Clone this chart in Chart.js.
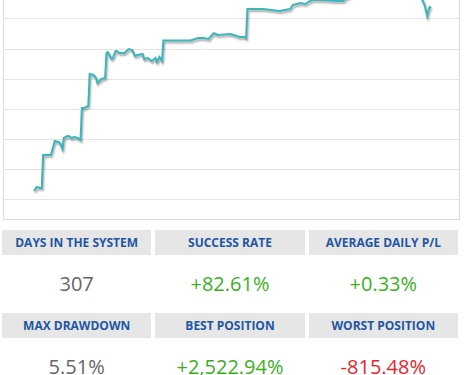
<!DOCTYPE html>
<html>
<head>
<meta charset="utf-8">
<script src="https://cdn.jsdelivr.net/npm/chart.js@4"></script>
<style>
  html, body { margin: 0; padding: 0; background: #fff; }
  body { width: 469px; height: 375px; position: relative; overflow: hidden; font-family: "Open Sans", sans-serif; }
  #chart-wrap { position: absolute; left: 0; top: -50px; width: 469px; height: 270px; }
  .stats {
    position: absolute; left: 2px; top: 230px; width: 456px;
    display: grid; grid-template-columns: repeat(3, 1fr); column-gap: 4px;
    grid-template-rows: 25px 58px 25px 58px;
  }
  .stats .head {
    background: #e6e6e6; color: #1f56a3; font-weight: bold; font-size: 12px;
    text-align: center; line-height: 25px; white-space: nowrap;
  }
  .stats .val { text-align: center; line-height: 58px; font-size: 20px; color: #666; }
  .stats .up { color: #3caf1f; }
  .stats .down { color: #e3262d; }
</style>
</head>
<body>
<div id="chart-wrap"><canvas id="chart"></canvas></div>
<div class="stats" id="stats"></div>
<script>
// equity curve, day of the system vs growth
const days = [0, 2, 5, 6, 7, 13, 16, 19, 20, 22, 23, 26, 27, 29, 31, 34, 36, 37, 39, 42,
  43, 46, 48, 49, 52, 55, 56, 57, 60, 61, 63, 64, 66, 70, 73, 76, 78, 80, 84, 85,
  88, 91, 94, 95, 97, 99, 100, 121, 127, 131, 135, 139, 142, 152, 159, 163, 164, 165, 177, 190,
  198, 200, 203, 206, 210, 212, 215, 223, 233, 239, 243, 252, 261, 271, 279, 287, 295, 299, 302, 304,
  305, 306, 307];
const growth = [80, 120, 110, 110, 440, 440, 580, 570, 560, 500, 610, 630, 630, 610, 620, 610, 590, 910, 910, 930,
  1250, 1240, 1210, 1160, 1200, 1210, 1460, 1470, 1400, 1410, 1480, 1480, 1460, 1460, 1500, 1490, 1430, 1440, 1450, 1400,
  1410, 1380, 1410, 1370, 1420, 1380, 1585, 1585, 1610, 1610, 1600, 1660, 1640, 1650, 1620, 1620, 1610, 1900, 1900, 1880,
  1900, 1940, 1950, 1960, 1950, 1970, 1990, 1990, 1980, 1980, 2020, 2070, 2090, 2130, 2100, 2140, 2110, 2030, 1940, 1830,
  1890, 1920, 1910];
const gridLevels = [0, 300, 600, 900, 1200, 1500, 1800, 2100];

// stats table
const statLabels = ["DAYS IN THE SYSTEM", "SUCCESS RATE", "AVERAGE DAILY P/L", "MAX DRAWDOWN", "BEST POSITION", "WORST POSITION"];
const statValues = ["307", "+82.61%", "+0.33%", "5.51%", "+2,522.94%", "-815.48%"];
const statKinds = ["", "up", "up", "", "up", "down"];

const stats = document.getElementById("stats");
for (let row = 0; row < 2; row++) {
  for (let c = 0; c < 3; c++) {
    const h = document.createElement("div");
    h.className = "head";
    h.textContent = statLabels[row * 3 + c];
    stats.appendChild(h);
  }
  for (let c = 0; c < 3; c++) {
    const v = document.createElement("div");
    v.className = "val " + statKinds[row * 3 + c];
    v.textContent = statValues[row * 3 + c];
    stats.appendChild(v);
  }
}

// soft shadow under the line
const lineShadow = {
  id: "lineShadow",
  beforeDatasetDraw(chart) {
    const ctx = chart.ctx;
    ctx.save();
    ctx.shadowColor = "rgba(0,0,0,0.35)";
    ctx.shadowBlur = 2;
    ctx.shadowOffsetX = 1;
    ctx.shadowOffsetY = 2;
  },
  afterDatasetDraw(chart) {
    chart.ctx.restore();
  }
};

const edge = "#dcdcdc";

new Chart(document.getElementById("chart"), {
  type: "line",
  plugins: [lineShadow],
  data: {
    datasets: [{
      data: days.map((d, i) => ({ x: d, y: growth[i] })),
      borderColor: "#3bb6ba",
      borderWidth: 2,
      pointRadius: 0,
      tension: 0,
      fill: false
    }]
  },
  options: {
    responsive: true,
    maintainAspectRatio: false,
    animation: false,
    layout: { padding: { left: 3, right: 10, top: 9, bottom: 1 } },
    plugins: { legend: { display: false }, tooltip: { enabled: false } },
    scales: {
      x: {
        type: "linear", min: -24, max: 328.6,
        grid: { display: false, drawTicks: false },
        border: { display: true, color: edge },
        ticks: { display: false }
      },
      y: {
        min: -200, max: 2400,
        afterBuildTicks: (s) => { s.ticks = gridLevels.map(v => ({ value: v })); },
        grid: { color: "#e4e4e4", drawTicks: false },
        border: { display: true, color: edge },
        ticks: { display: false }
      },
      y2: {
        position: "right", min: -200, max: 2400,
        grid: { display: false, drawTicks: false },
        border: { display: true, color: edge },
        ticks: { display: false }
      }
    }
  }
});
</script>
</body>
</html>
